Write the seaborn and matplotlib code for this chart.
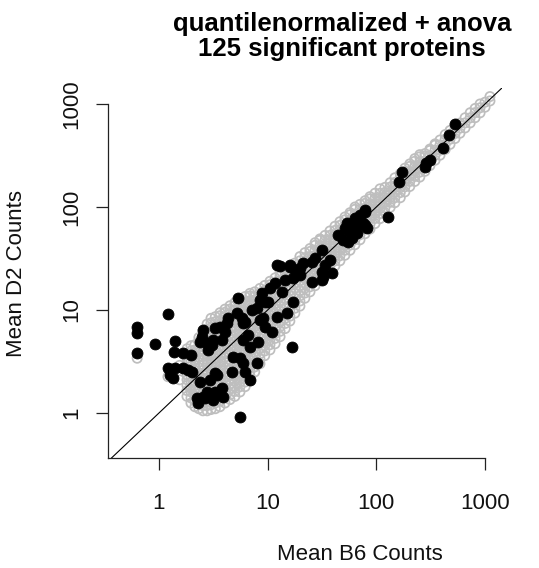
import matplotlib
matplotlib.use("Agg")
import matplotlib.pyplot as plt
import seaborn as sns
import pandas as pd

# ---- significant proteins (black filled) ----
SIG_B6 = [0.63, 0.63, 0.63, 0.92, 1.21, 1.40, 1.37, 1.66, 1.97, 2.49,
          2.77, 2.82, 2.38, 1.21, 1.40, 1.66, 2.01, 1.26, 1.35, 2.38,
          3.42, 2.24, 2.54, 2.94, 3.42, 2.29, 2.54, 4.22, 4.05, 5.93,
          9.45, 10.96, 16.7, 5.93, 6.87, 8.14, 4.80, 5.56, 5.93, 7.97,
          6.18, 3.27, 4.70, 2.77, 3.27, 3.88, 2.65, 3.14, 5.56, 12.2,
          16.0, 17.8, 11.7, 10.5, 8.86, 5.33, 8.49, 9.45, 10.07, 7.17,
          7.97, 5.22, 5.80, 6.18, 4.31, 3.64, 17.1, 12.2, 15.1, 3.27,
          78.5, 75.3, 82.0, 57.2, 53.7, 66.3, 59.7, 49.3, 44.4, 54.8,
          31.6, 16.0, 21.1, 25.6, 37.4, 33.7, 19.8, 17.1, 31.6, 39.0,
          32.3, 25.6, 31.6, 13.0, 288, 311, 172, 161, 78.5, 70.7,
          128, 53.7, 66.3, 78.5, 528, 466, 410, 280, 3.14, 8.49,
          3.07, 3.80, 6.58, 9.04, 13.6, 14.4, 19.8, 27.2, 51.4, 63.6,
          1.85, 2.94, 3.80, 6.87]
SIG_D2 = [6.84, 5.98, 3.83, 4.68, 9.15, 5.00, 3.91, 3.83, 3.66, 5.47,
          4.78, 4.09, 4.89, 2.74, 2.74, 2.74, 2.50, 2.34, 2.19, 2.00,
          2.34, 1.40, 1.43, 1.50, 1.56, 1.25, 6.40, 7.48, 6.11, 7.48,
          6.84, 6.11, 4.37, 5.12, 4.37, 4.89, 3.50, 3.42, 3.06, 3.06,
          2.50, 2.44, 2.50, 1.60, 1.60, 1.43, 1.40, 1.34, 0.915, 27.3,
          27.3, 24.4, 18.3, 16.4, 14.6, 13.1, 12.5, 12.0, 12.0, 10.0,
          10.5, 9.35, 8.36, 7.64, 8.36, 6.84, 12.0, 8.55, 9.35, 6.69,
          89.4, 70.0, 62.5, 66.9, 59.8, 55.9, 50.0, 47.8, 53.5, 45.7,
          38.3, 26.1, 28.6, 29.2, 30.6, 27.3, 21.9, 20.5, 23.4, 22.9,
          20.9, 18.7, 19.6, 26.7, 267, 286, 219, 175, 93.5, 83.6,
          80.0, 70.0, 66.9, 66.9, 640, 500, 374, 244, 5.12, 7.98,
          4.57, 5.12, 5.72, 8.36, 15.0, 19.6, 25.5, 31.8, 62.5, 78.4,
          2.61, 2.09, 1.75, 2.09]

# ---- all other proteins (grey open), grouped by B6 value ----
GREY_B6 = [0.63, 1.21, 1.55, 1.81, 1.97, 2.14, 2.33, 2.54, 2.77, 3.01,
           3.30, 3.64, 4.05, 4.50, 5.0, 5.56, 6.2, 6.87, 7.6, 8.49,
           9.4, 10.5, 11.7, 13.0, 14.5, 16.0, 17.8, 19.8, 22, 24.5,
           27.3, 30.3, 33.7, 37.4, 41.6, 46.2, 51.4, 57.2, 63.6, 70.7,
           78.7, 87.4, 97.2, 108, 120, 134, 148, 166, 183, 203,
           226, 251, 280, 311, 347, 385, 430, 476, 530, 588,
           655, 730, 810, 900, 1000, 1110]
GREY_D2 = [
    [3.4],
    [2.25],
    [2.1, 2.9],
    [1.45, 1.65, 1.85, 2.1, 2.35, 2.65, 3.0, 3.4, 3.8, 4.2],
    [1.25, 1.4, 1.6, 1.8, 2.0, 2.25, 2.55, 2.85, 3.2, 3.6, 4.0, 4.5],
    [1.15, 1.3, 1.45, 1.65, 1.85, 2.05, 2.3, 2.6, 2.9, 3.25, 3.65, 4.1, 4.6],
    [1.1, 1.25, 1.4, 1.55, 1.75, 1.95, 2.2, 2.45, 2.75, 3.1, 3.45, 3.9,
     4.35, 4.9, 5.4],
    [1.05, 1.18, 1.32, 1.48, 1.65, 1.85, 2.1, 2.35, 2.6, 2.95, 3.3, 3.7,
     4.1, 4.6, 5.2, 5.8, 6.3],
    [1.05, 1.18, 1.32, 1.48, 1.65, 1.85, 2.1, 2.35, 2.6, 2.95, 3.3, 3.7,
     4.1, 4.6, 5.2, 5.8, 6.5, 7.3],
    [1.08, 1.2, 1.35, 1.52, 1.7, 1.9, 2.15, 2.4, 2.7, 3.0, 3.4, 3.8, 4.25,
     4.75, 5.3, 6.0, 6.7, 7.5, 8.3],
    [1.1, 1.25, 1.4, 1.55, 1.75, 1.95, 2.2, 2.45, 2.75, 3.1, 3.45, 3.9,
     4.35, 4.9, 5.5, 6.1, 6.9, 7.7, 8.6],
    [1.15, 1.3, 1.45, 1.62, 1.8, 2.0, 2.25, 2.5, 2.8, 3.15, 3.55, 4.0,
     4.45, 5.0, 5.6, 6.3, 7.0, 7.9, 8.8, 9.4],
    [1.25, 1.4, 1.55, 1.75, 1.95, 2.2, 2.45, 2.75, 3.1, 3.45, 3.85, 4.3,
     4.85, 5.4, 6.1, 6.8, 7.6, 8.5, 9.5, 10.2],
    [1.35, 1.5, 1.7, 1.9, 2.1, 2.35, 2.65, 2.95, 3.3, 3.7, 4.15, 4.65, 5.2,
     5.8, 6.5, 7.3, 8.2, 9.1, 10.2, 11],
    [1.45, 1.62, 1.82, 2.05, 2.3, 2.55, 2.85, 3.2, 3.6, 4.0, 4.5, 5.0, 5.6,
     6.3, 7.0, 7.9, 8.8, 9.9, 11, 11.8],
    [1.6, 1.8, 2.0, 2.25, 2.5, 2.8, 3.15, 3.5, 3.95, 4.4, 4.95, 5.5, 6.2,
     6.9, 7.7, 8.7, 9.7, 10.8, 12, 12.8],
    [1.8, 2.0, 2.25, 2.5, 2.8, 3.15, 3.5, 3.95, 4.4, 4.95, 5.5, 6.2, 6.9,
     7.7, 8.7, 9.7, 10.8, 12, 13.5],
    [2.05, 2.3, 2.55, 2.85, 3.2, 3.6, 4.0, 4.5, 5.0, 5.6, 6.3, 7.0, 7.9,
     8.8, 9.9, 11, 12.3, 13.7, 14.5],
    [2.5, 2.8, 3.1, 3.5, 3.9, 4.35, 4.9, 5.5, 6.1, 6.9, 7.7, 8.6, 9.6, 10.8,
     12, 13.5, 15],
    [3.0, 3.35, 3.75, 4.2, 4.7, 5.25, 5.9, 6.6, 7.4, 8.3, 9.3, 10.4, 11.6,
     13, 14.6, 16.2],
    [3.6, 4.0, 4.5, 5.0, 5.6, 6.3, 7.0, 7.9, 8.8, 9.9, 11, 12.4, 13.9,
     15.5, 17.3],
    [4.1, 4.6, 5.1, 5.7, 6.4, 7.2, 8.0, 9.0, 10, 11.2, 12.6, 14.1, 15.8,
     17.6, 19],
    [4.7, 5.3, 5.9, 6.6, 7.4, 8.3, 9.3, 10.4, 11.6, 13, 14.6, 16.3, 18.3,
     20.5],
    [5.5, 6.2, 6.9, 7.7, 8.6, 9.7, 10.8, 12.1, 13.6, 15.2, 17, 19, 21.3, 23],
    [6.6, 7.4, 8.3, 9.3, 10.4, 11.6, 13, 14.6, 16.3, 18.3, 20.5, 23, 25],
    [7.8, 8.7, 9.8, 11, 12.3, 13.8, 15.4, 17.2, 19.3, 21.6, 24.2, 26.5],
    [9.3, 10.4, 11.6, 13, 14.6, 16.3, 18.3, 20.5, 23, 25.7, 28.5],
    [10.9, 12.2, 13.7, 15.3, 17.1, 19.2, 21.5, 24, 26.9, 30, 33],
    [13, 14.6, 16.3, 18.3, 20.5, 23, 25.7, 28.8, 32.2, 36],
    [15, 16.8, 18.8, 21, 23.5, 26.3, 29.5, 33, 37, 39.5],
    [17.2, 19.3, 21.6, 24.2, 27.1, 30.3, 34, 38, 42.5, 45],
    [19.2, 21.5, 24, 27, 30.2, 33.8, 37.9, 42.4, 47.5, 49],
    [21.5, 24.1, 27, 30.2, 33.8, 37.9, 42.4, 47.5, 53],
    [24, 26.9, 30.1, 33.7, 37.8, 42.3, 47.4, 53, 58.5],
    [26.8, 30, 33.6, 37.6, 42.1, 47.2, 52.8, 59.2, 65],
    [30, 33.6, 37.6, 42.1, 47.2, 52.8, 59.2, 66.3, 72],
    [34, 38, 42.6, 47.7, 53.4, 59.8, 67, 75, 80],
    [38, 42.6, 47.7, 53.4, 59.8, 67, 75, 84, 88],
    [43, 48.2, 54, 60.4, 67.7, 75.8, 84.9, 95, 100],
    [48, 53.8, 60.2, 67.4, 75.5, 84.6, 94.7, 106],
    [55, 61.6, 69, 77.3, 86.5, 96.9, 108.5, 115],
    [61, 68.3, 76.5, 85.7, 96, 107.5, 120, 126],
    [69, 77.3, 86.5, 96.9, 108.5, 121.5, 136],
    [77, 86.2, 96.6, 108, 121, 135.5, 150],
    [88, 98.6, 110, 123.5, 138.5, 155],
    [99, 111, 124, 139, 156, 172],
    [110, 123, 138, 154.5, 173, 192],
    [123, 138, 154, 173, 193.5, 210],
    [140, 157, 176, 197, 220, 238],
    [158, 177, 198, 222, 248, 262],
    [177, 198, 222, 249, 278, 295],
    [195, 218, 245, 274, 307, 322],
    [222, 249, 279, 312, 330],
    [252, 282, 316, 354, 365],
    [284, 318, 356, 399, 410],
    [318, 356, 399, 447],
    [362, 405, 454, 505],
    [405, 454, 508, 553],
    [462, 517, 580, 635],
    [520, 582, 652],
    [585, 655, 735],
    [655, 733, 822],
    [735, 823, 905],
    [820, 918, 1000],
    [930, 1040],
    [1070, 1180],
]

TICKS = [1, 10, 100, 1000]
TICK_LABELS = ["1", "10", "100", "1000"]
TITLE_1 = "quantilenormalized + anova"
TITLE_2 = "125 significant proteins"
XLABEL = "Mean B6 Counts"
YLABEL = "Mean D2 Counts"

grey = pd.DataFrame({
    "B6": [b for b, col in zip(GREY_B6, GREY_D2) for _ in col],
    "D2": [d for col in GREY_D2 for d in col],
})
sig = pd.DataFrame({"B6": SIG_B6, "D2": SIG_D2})

sns.set_theme(style="white")
plt.rcParams["font.family"] = ["Liberation Sans", "DejaVu Sans"]

W, H = 539, 568
fig = plt.figure(figsize=(W / 100, H / 100), dpi=100)
ax = fig.add_axes([108 / W, 110 / H, 394 / W, 370 / H])
ax.set_xscale("log")
ax.set_yscale("log")
xlim = (10 ** -0.469, 10 ** 3.156)
ylim = (10 ** -0.437, 10 ** 3.155)
ax.set_xlim(*xlim)
ax.set_ylim(*ylim)

sns.scatterplot(data=grey, x="B6", y="D2", ax=ax, s=44, marker="o",
                facecolor="none", edgecolor="#BEBEBE", linewidth=1.25,
                legend=False, zorder=2)
sns.scatterplot(data=sig, x="B6", y="D2", ax=ax, s=62, marker="o",
                color="black", edgecolor="black", linewidth=0.6,
                legend=False, zorder=3)
ax.axline((1, 1), (1000, 1000), color="black", linewidth=0.8, zorder=4)

ax.set_xlim(*xlim)
ax.set_ylim(*ylim)
ax.set_xlabel("")
ax.set_ylabel("")
ax.minorticks_off()
ax.set_xticks(TICKS)
ax.set_xticklabels(TICK_LABELS)
ax.set_yticks(TICKS)
ax.set_yticklabels(TICK_LABELS, rotation=90, va="center")
ax.tick_params(axis="both", which="major", length=8.5, width=0.9,
               direction="out", color="#222222", labelsize=16,
               labelcolor="#111111", bottom=True, left=True)
ax.tick_params(axis="x", pad=17)
ax.tick_params(axis="y", pad=10)

for side in ["top", "right"]:
    ax.spines[side].set_visible(False)
for side in ["left", "bottom"]:
    ax.spines[side].set_color("#222222")
    ax.spines[side].set_linewidth(0.9)
ax.spines["left"].set_bounds(ylim[0], 1000)
ax.spines["bottom"].set_bounds(xlim[0], 1000)

fig.text(342 / W, 1 - 31 / H, TITLE_1, ha="center", va="baseline",
         fontsize=18.5, fontweight="bold", color="black")
fig.text(342 / W, 1 - 56 / H, TITLE_2, ha="center", va="baseline",
         fontsize=18.5, fontweight="bold", color="black")
fig.text(360 / W, 1 - 554 / H, XLABEL, ha="center", va="center",
         fontsize=16, color="#111111")
fig.text(17 / W, 1 - 273 / H, YLABEL, ha="center", va="center",
         rotation=90, fontsize=16, color="#111111")

fig.savefig("out.png", dpi=100, facecolor="white")
